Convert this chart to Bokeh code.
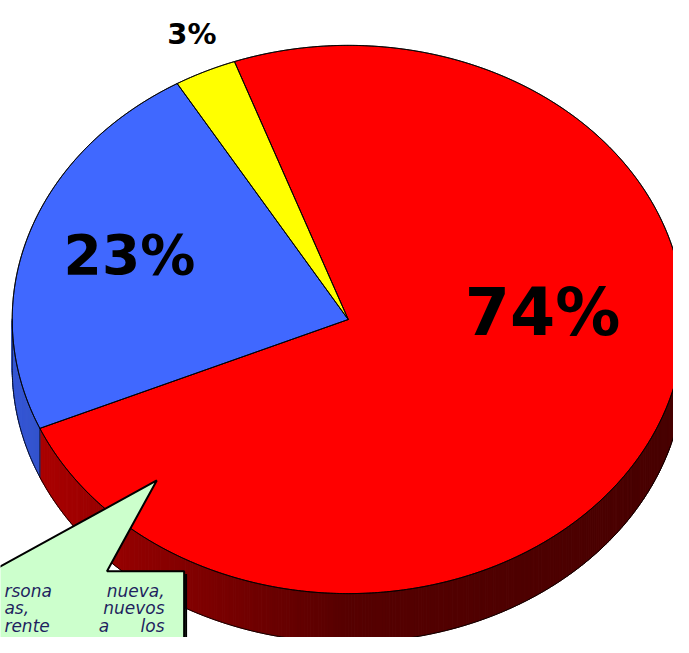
import numpy as np
from bokeh.plotting import figure
from bokeh.models import Range1d
from bokeh.core.properties import value
from bokeh.embed import file_html
from bokeh.resources import INLINE

# ---- data ----
shares = [74, 23, 3]
labels = ["74%", "23%", "3%"]
colors = ["#ff0000", "#4068ff", "#ffff00"]
base_rgb = [(255, 0, 0), (64, 104, 255), (255, 255, 0)]
side_boost = [1.0, 1.2, 1.0]

# label placement (pixel layout of the picture)
label_x = [555, 132, 196]
label_y = [320, 261, 34]
label_size = ["65px", "55px", "29px"]

# callout text fragments (visible part of the note)
note_words = ["rsona", "nueva,", "as,", "nuevos", "rente", "a", "los"]
note_x = [4, 168, 4, 168, 4, 106, 168]
note_y = [605, 605, 623, 623, 641, 641, 641]
note_align = ["left", "right", "left", "right", "left", "center", "right"]

# ---- geometry of the 3D pie ----
CX, CY, RX, RY, DEPTH = 356, 327, 344, 281, 50
START = 109.8


def pt(theta_deg, depth=0.0):
    t = np.radians(theta_deg)
    return CX + RX * np.cos(t), CY - RY * np.sin(t) + depth


def shade(theta_deg):
    t = -np.cos(np.radians(theta_deg))
    return 0.34 + 0.36 * max(t, 0) - 0.06 * max(-t, 0)


p = figure(width=673, height=637, output_backend="svg", toolbar_location=None,
           x_range=Range1d(0, 689), y_range=Range1d(653, 0),
           x_axis_location=None, y_axis_location=None, min_border=0)
p.grid.visible = False
p.outline_line_color = None
p.background_fill_color = "white"

bounds = START - np.concatenate([[0], np.cumsum(shares)]) * 3.6

side_xs, side_ys, side_col = [], [], []
top_xs, top_ys = [], []
for i in range(len(shares)):
    hi, lo = bounds[i], bounds[i + 1]
    n = max(2, int((hi - lo) * 2) + 1)
    th = np.linspace(lo, hi, n)
    x, y = pt(th)
    top_xs.append([CX] + list(x))
    top_ys.append([CY] + list(y))
    for j in range(n - 1):
        mid = 0.5 * (th[j] + th[j + 1])
        if np.sin(np.radians(mid)) < 0:
            x0, y0 = pt(th[j])
            x1, y1 = pt(th[j + 1])
            side_xs.append([x0, x1, x1, x0])
            side_ys.append([y0, y1, y1 + DEPTH, y0 + DEPTH])
            f = min(1.0, shade(mid) * side_boost[i])
            r, g, b = base_rgb[i]
            side_col.append("#%02x%02x%02x" % (int(r * f), int(g * f), int(b * f)))

p.patches(side_xs, side_ys, fill_color=side_col, line_color=side_col, line_width=1)
p.patches(top_xs, top_ys, fill_color=colors, line_color="black", line_width=1,
          line_alpha=0.85)

# outlines
th = np.linspace(0, 360, 721)
ex, ey = pt(th)
p.line(ex, ey, line_color="black", line_width=1, line_alpha=0.85)
th = np.linspace(180, 360, 361)
bx, by = pt(th, DEPTH)
p.line(bx, by, line_color="black", line_width=1, line_alpha=0.85)
for a in [180.0, 360.0] + [b % 360 for b in bounds[:-1]]:
    if 180 <= a <= 360:
        x0, y0 = pt(a)
        p.line([x0, x0], [y0, y0 + DEPTH], line_color="black", line_width=1, line_alpha=0.7)
for b in bounds[:-1]:
    x0, y0 = pt(b)
    p.line([CX, x0], [CY, y0], line_color="black", line_width=1, line_alpha=0.85)

# percentage labels
for i in range(len(labels)):
    p.text([label_x[i]], [label_y[i]], text=[labels[i]], text_align="center",
           text_baseline="alphabetic", text_font=value("DejaVu Sans"),
           text_font_style="bold", text_font_size=label_size[i], text_color="black")

# callout
call_x = [-30, -9, 160, 109, 188, 188, -30]
call_y = [585, 585, 492, 585, 585, 680, 680]
p.patch(call_x, call_y, fill_color="#ccffcc", line_color="black", line_width=2)
p.line([190, 190], [588, 660], line_color="black", line_width=2)

for w, x, y, al in zip(note_words, note_x, note_y, note_align):
    p.text([x], [y], text=[w], text_align=al, text_baseline="alphabetic",
           text_font=value("DejaVu Sans"), text_font_style="italic",
           text_font_size="17px", text_color="#1f1f5f")

open("out.html", "w").write(file_html(p, INLINE))
